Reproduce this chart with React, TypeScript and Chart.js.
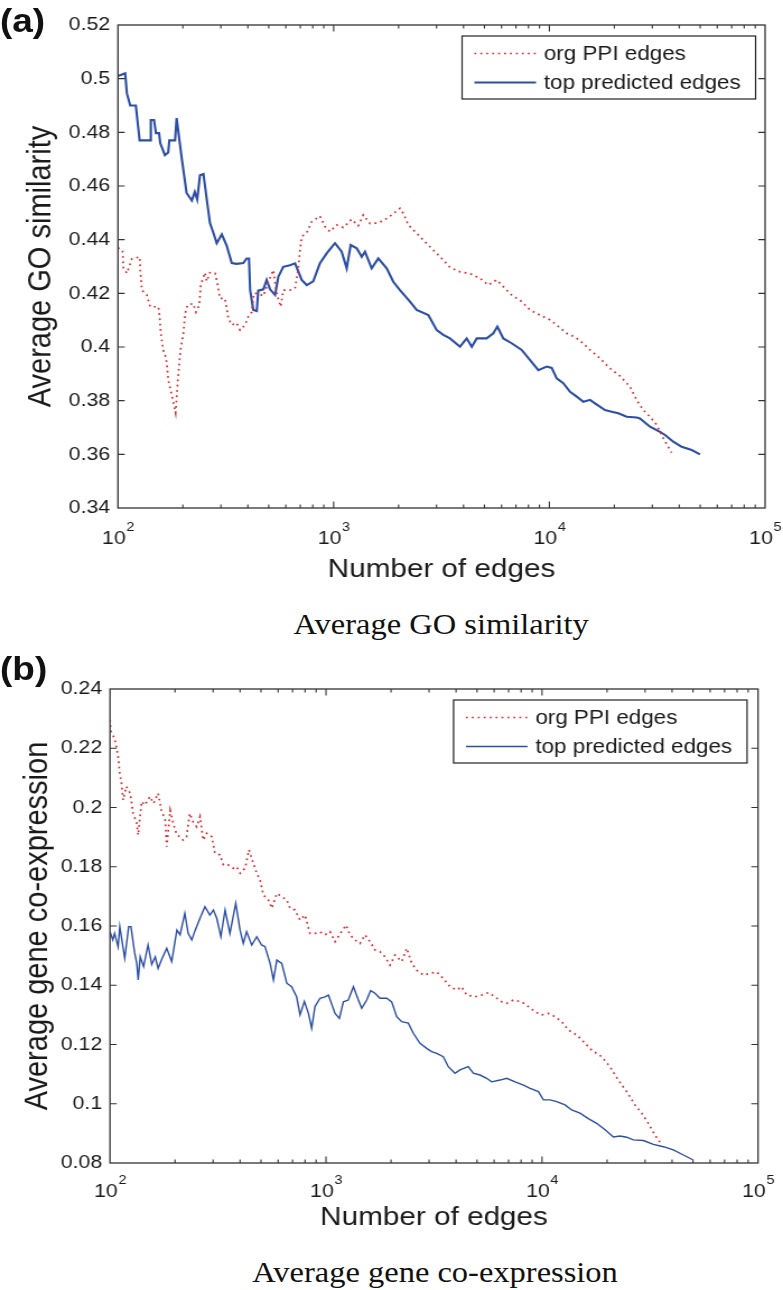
import React, { useEffect, useRef } from 'react';
import { Chart, registerables } from 'chart.js';

Chart.register(...registerables);

// The reference is horizontally stretched; we lay out in unstretched units and scale X.
const W0 = 699;
const S = 783 / W0;

const FONT = "'Liberation Sans', Arial, Helvetica, sans-serif";
const SERIF = "'Liberation Serif', 'Times New Roman', Times, serif";
const TEXT = '#1a1a1a';
const AXIS = '#333333';
const RED = '#e2262c';
const BLUE = '#2c4ea3';

// ---------- data ----------
const seriesLabels = ['org PPI edges', 'top predicted edges'];
const xTitle = 'Number of edges';
const xDecades = [100, 1000, 10000, 100000];
const xMinorMultipliers = [2, 3, 4, 5, 6, 7, 8, 9];

const goYTicks = [0.34, 0.36, 0.38, 0.4, 0.42, 0.44, 0.46, 0.48, 0.5, 0.52];
const coYTicks = [0.08, 0.1, 0.12, 0.14, 0.16, 0.18, 0.2, 0.22, 0.24];

// (a) Average GO similarity — original PPI edges (red dotted)
const goPpiEdges = [
  100, 105, 106, 110, 116, 126, 127, 129, 136, 141, 154, 156, 158, 162, 167, 169, 171, 180, 185,
  190, 195, 201, 205, 210, 223, 230, 238, 242, 253, 258, 267, 282, 289, 297, 313, 319, 325, 337,
  355, 368, 388, 402, 417, 427, 447, 472, 498, 525, 544, 568, 584, 627, 662, 686, 698, 711, 750,
  791, 864, 911, 961, 1033, 1109, 1211, 1300, 1372, 1473, 1581, 1698, 1857, 2029, 2103, 2218,
  2425, 2651, 2898, 3224, 3461, 3852, 4286, 4768, 5210, 5696, 6115, 6683, 7441, 8136, 9040,
  10070, 10810, 12020, 12910, 13870, 15430, 17170, 19100, 21250, 23640, 25390, 27250, 29270,
  31420, 33730, 35570, 36870,
];
const goPpiValues = [
  0.437, 0.436, 0.4294, 0.4275, 0.4328, 0.4336, 0.4286, 0.4212, 0.4194, 0.415, 0.415, 0.4113,
  0.4051, 0.3989, 0.396, 0.3927, 0.3877, 0.38, 0.3755, 0.389, 0.399, 0.405, 0.4126, 0.4156,
  0.4162, 0.413, 0.4155, 0.423, 0.4277, 0.4245, 0.4277, 0.4275, 0.4237, 0.4181, 0.4181, 0.4144,
  0.4107, 0.4082, 0.409, 0.4063, 0.4082, 0.4113, 0.413, 0.42, 0.42, 0.419, 0.4243, 0.4287, 0.42,
  0.415, 0.4212, 0.4212, 0.4218, 0.4293, 0.4361, 0.4411, 0.4426, 0.4467, 0.4488, 0.4449, 0.443,
  0.4455, 0.4445, 0.4476, 0.4452, 0.4492, 0.446, 0.4462, 0.447, 0.4492, 0.4517, 0.4498, 0.4455,
  0.4424, 0.4392, 0.4361, 0.4324, 0.4297, 0.428, 0.4274, 0.4256, 0.4231, 0.425, 0.4225, 0.4194,
  0.4169, 0.4138, 0.4119, 0.4101, 0.4082, 0.4051, 0.404, 0.4024, 0.3989, 0.3958, 0.392, 0.3892,
  0.3852, 0.3802, 0.3765, 0.374, 0.371, 0.366, 0.3628, 0.3606,
];

// (a) Average GO similarity — top predicted edges (blue solid)
const goTopEdges = [
  100, 108, 110, 114, 121, 126, 141, 142, 147, 150, 155, 157, 165, 171, 173, 184, 187, 197, 208,
  220, 227, 233, 240, 249, 258, 267, 277, 287, 303, 319, 337, 355, 381, 395, 405, 410, 424, 440,
  447, 472, 489, 507, 535, 554, 584, 627, 662, 711, 750, 804, 864, 928, 996, 1014, 1089, 1149,
  1199, 1279, 1349, 1397, 1500, 1610, 1761, 1890, 2029, 2258, 2425, 2747, 3004, 3224, 3461, 3852,
  4137, 4367, 4606, 5120, 5496, 5740, 6115, 6683, 7441, 8136, 8890, 9722, 10250, 10810, 11600,
  12470, 13390, 14370, 15430, 16270, 18100, 19440, 20860, 22810, 25390, 26300, 29270, 32570,
  34380, 37530, 41040, 45670, 49920,
];
const goTopValues = [
  0.501, 0.502, 0.4945, 0.49, 0.49, 0.477, 0.477, 0.4846, 0.4846, 0.4797, 0.4797, 0.476, 0.4715,
  0.4725, 0.477, 0.477, 0.4853, 0.471, 0.4574, 0.4546, 0.4578, 0.455, 0.464, 0.4645, 0.455,
  0.4462, 0.4425, 0.4387, 0.442, 0.4378, 0.4313, 0.431, 0.4313, 0.433, 0.433, 0.4212, 0.4138,
  0.4134, 0.421, 0.4215, 0.425, 0.4215, 0.4194, 0.4262, 0.4299, 0.4305, 0.4312, 0.425, 0.4231,
  0.4245, 0.4312, 0.4349, 0.438, 0.4387, 0.4355, 0.4293, 0.438, 0.4368, 0.4336, 0.4355, 0.4293,
  0.433, 0.4293, 0.4243, 0.4212, 0.4169, 0.4138, 0.4119, 0.4063, 0.4045, 0.4032, 0.4001, 0.4032,
  0.4001, 0.4032, 0.4032, 0.4051, 0.4076, 0.4032, 0.4014, 0.3989, 0.3951, 0.3914, 0.3927,
  0.3922, 0.3883, 0.3865, 0.3833, 0.3815, 0.3796, 0.3803, 0.379, 0.3765, 0.3759, 0.3753, 0.374,
  0.3737, 0.3734, 0.3703, 0.3684, 0.3672, 0.3647, 0.3628, 0.3616, 0.36,
];

// (b) Average gene co-expression — original PPI edges (red dotted)
const coPpiEdges = [
  100, 101, 105, 107, 109, 111, 113, 115, 119, 124, 128, 133, 135, 140, 145, 153, 159, 167, 173,
  180, 183, 190, 196, 204, 211, 218, 226, 234, 243, 252, 261, 270, 280, 296, 306, 323, 335, 353,
  372, 386, 400, 422, 440, 461, 478, 495, 513, 541, 561, 592, 624, 658, 681, 718, 758, 799, 843,
  889, 938, 989, 1043, 1101, 1153, 1238, 1291, 1362, 1436, 1516, 1599, 1686, 1778, 1876, 1978,
  2086, 2240, 2364, 2493, 2630, 2826, 3030, 3252, 3491, 3750, 4027, 4245, 4477, 4893, 5257, 5645,
  6058, 6507, 6861, 7363, 8050, 8646, 9290, 9977, 10700, 11480, 12330, 13240, 14480, 15540,
  16980, 18880, 20630, 22540, 24650, 26960, 28960, 31060, 33340, 35800,
];
const coPpiValues = [
  0.2295, 0.2256, 0.2233, 0.2205, 0.2172, 0.2115, 0.2082, 0.2025, 0.2071, 0.2048, 0.198, 0.1947,
  0.1907, 0.202, 0.2008, 0.2037, 0.2014, 0.2048, 0.199, 0.1958, 0.1868, 0.199, 0.1947, 0.1907,
  0.1901, 0.189, 0.1901, 0.198, 0.195, 0.1935, 0.1969, 0.189, 0.1913, 0.1901, 0.1845, 0.184,
  0.1806, 0.1806, 0.1795, 0.18, 0.1778, 0.1795, 0.1857, 0.1811, 0.1778, 0.1755, 0.1705, 0.1688,
  0.166, 0.171, 0.1699, 0.1688, 0.166, 0.1654, 0.162, 0.1637, 0.1575, 0.1575, 0.158, 0.157,
  0.1581, 0.1547, 0.157, 0.1603, 0.157, 0.1553, 0.1541, 0.157, 0.1547, 0.1519, 0.1513, 0.1496,
  0.1468, 0.1502, 0.148, 0.1525, 0.1474, 0.1451, 0.1434, 0.144, 0.1445, 0.1423, 0.1395, 0.1384,
  0.1395, 0.1367, 0.1361, 0.1367, 0.1375, 0.1361, 0.1344, 0.1339, 0.135, 0.1344, 0.1328, 0.131,
  0.13, 0.1305, 0.1294, 0.1277, 0.1249, 0.1232, 0.121, 0.1181, 0.1159, 0.1125, 0.108, 0.1041,
  0.0996, 0.0968, 0.0934, 0.0894, 0.0862,
];

// (b) Average gene co-expression — top predicted edges (blue solid)
const coTopEdges = [
  100, 103, 105, 109, 111, 115, 117, 122, 125, 130, 133, 135, 138, 143, 150, 156, 162, 167, 173,
  183, 193, 204, 211, 222, 230, 239, 248, 261, 275, 290, 301, 312, 326, 341, 359, 382, 400, 414,
  429, 453, 478, 503, 522, 551, 571, 592, 624, 658, 693, 731, 758, 794, 829, 858, 889, 938, 989,
  1026, 1101, 1153, 1203, 1268, 1339, 1412, 1463, 1543, 1609, 1685, 1778, 1909, 2014, 2124, 2240,
  2404, 2536, 2723, 2923, 3083, 3252, 3491, 3683, 3953, 4170, 4556, 4806, 5160, 5540, 5845, 6391,
  6861, 7503, 8204, 8806, 9620, 10150, 10890, 11690, 12780, 13710, 14990, 16380, 17900, 19580,
  21400, 22970, 24650, 26460, 29460, 32760, 36440, 40550, 45110, 49860,
];
const coTopValues = [
  0.1581, 0.1553, 0.1575, 0.153, 0.1598, 0.1525, 0.1491, 0.1598, 0.1598, 0.151, 0.1474, 0.1418,
  0.1496, 0.1463, 0.1536, 0.147, 0.1496, 0.1457, 0.1485, 0.1525, 0.148, 0.1586, 0.157, 0.1643,
  0.1575, 0.1553, 0.1586, 0.1626, 0.1665, 0.1637, 0.1654, 0.1626, 0.1564, 0.1654, 0.1575, 0.1677,
  0.1586, 0.1541, 0.1581, 0.1536, 0.1564, 0.1536, 0.153, 0.1474, 0.1418, 0.1485, 0.1474, 0.1407,
  0.1395, 0.1361, 0.13, 0.1345, 0.1305, 0.1255, 0.1328, 0.1356, 0.1361, 0.1367, 0.1305, 0.1288,
  0.1344, 0.135, 0.1395, 0.135, 0.1322, 0.135, 0.1382, 0.1373, 0.1356, 0.1356, 0.1344, 0.1294,
  0.1277, 0.1272, 0.1238, 0.1204, 0.1187, 0.1176, 0.117, 0.1159, 0.1125, 0.1103, 0.1114, 0.1125,
  0.1103, 0.1097, 0.1086, 0.1074, 0.108, 0.1086, 0.1074, 0.1063, 0.1052, 0.1041, 0.1013, 0.1013,
  0.1007, 0.0996, 0.0979, 0.0968, 0.095, 0.0934, 0.0912, 0.0888, 0.0891, 0.0887, 0.0878, 0.0876,
  0.0863, 0.0855, 0.0844, 0.0827, 0.0811,
];

// ---------- helpers ----------
const zip = (xs: number[], ys: number[]) => xs.map((x, i) => ({ x, y: ys[i] }));
const fmt = (v: number) => String(parseFloat(Number(v).toFixed(2)));

const matlabAxes = {
  id: 'matlabAxes',
  afterDatasetsDraw(chart: any, _args: any, opts: any) {
    const { ctx, chartArea: ca, scales } = chart;
    const xs = scales.x;
    const ys = scales.y;
    ctx.save();
    ctx.strokeStyle = AXIS;
    ctx.lineWidth = 1.3;
    ctx.strokeRect(ca.left, ca.top, ca.right - ca.left, ca.bottom - ca.top);
    ctx.beginPath();
    ctx.lineWidth = 1.1;
    for (let i = 0; i < xDecades.length - 1; i++) {
      for (const m of [1, ...xMinorMultipliers]) {
        const v = xDecades[i] * m;
        if (v <= xs.min || v >= xs.max) continue;
        const p = xs.getPixelForValue(v);
        const len = m === 1 ? 6.5 : 3.5;
        ctx.moveTo(p, ca.bottom);
        ctx.lineTo(p, ca.bottom - len);
        ctx.moveTo(p, ca.top);
        ctx.lineTo(p, ca.top + len);
      }
    }
    for (const t of ys.ticks) {
      if (t.value <= ys.min + 1e-9 || t.value >= ys.max - 1e-9) continue;
      const p = ys.getPixelForValue(t.value);
      ctx.moveTo(ca.left, p);
      ctx.lineTo(ca.left + 6, p);
      ctx.moveTo(ca.right, p);
      ctx.lineTo(ca.right - 6, p);
    }
    ctx.stroke();

    ctx.fillStyle = TEXT;
    ctx.textBaseline = 'alphabetic';
    ctx.textAlign = 'left';
    const base = ca.bottom + (opts.labelBaseline || 35);
    for (const d of xDecades) {
      const p = xs.getPixelForValue(d);
      const exp = String(Math.round(Math.log10(d)));
      ctx.font = `19px ${FONT}`;
      const w1 = ctx.measureText('10').width;
      ctx.font = `13px ${FONT}`;
      const w2 = ctx.measureText(exp).width;
      const x0 = p - (w1 + w2) / 2;
      ctx.font = `19px ${FONT}`;
      ctx.fillText('10', x0, base);
      ctx.font = `13px ${FONT}`;
      ctx.fillText(exp, x0 + w1 + 0.5, base - 13.5);
    }
    ctx.restore();
  },
};

const insetLegend = {
  id: 'insetLegend',
  afterDraw(chart: any, _args: any, opts: any) {
    const { ctx, chartArea: ca } = chart;
    const w = 262;
    const h = 63;
    const bx = ca.right - (opts.rightGap || 9) - w;
    const by = ca.top + 11;
    ctx.save();
    ctx.fillStyle = '#ffffff';
    ctx.fillRect(bx, by, w, h);
    ctx.strokeStyle = '#222222';
    ctx.lineWidth = 1.2;
    ctx.strokeRect(bx, by, w, h);
    chart.data.datasets.forEach((ds: any, i: number) => {
      const yy = by + 17.5 + i * 29;
      ctx.beginPath();
      ctx.strokeStyle = ds.borderColor;
      ctx.lineWidth = ds.borderWidth;
      ctx.setLineDash(ds.borderDash || []);
      ctx.moveTo(bx + 11, yy);
      ctx.lineTo(bx + 66, yy);
      ctx.stroke();
      ctx.setLineDash([]);
      ctx.fillStyle = TEXT;
      ctx.font = `20px ${FONT}`;
      ctx.textBaseline = 'middle';
      ctx.textAlign = 'left';
      ctx.fillText(ds.label, bx + 73, yy + 1);
    });
    ctx.restore();
  },
};

function buildConfig(p: any): any {
  return {
    type: 'line',
    data: {
      datasets: [
        {
          label: seriesLabels[0],
          data: zip(p.ppiN, p.ppiV),
          borderColor: RED,
          borderWidth: 1.7,
          borderDash: [1.7, 3.6],
          pointRadius: 0,
          fill: false,
          tension: 0,
        },
        {
          label: seriesLabels[1],
          data: zip(p.topN, p.topV),
          borderColor: BLUE,
          borderWidth: p.blueWidth,
          pointRadius: 0,
          fill: false,
          tension: 0,
        },
      ],
    },
    options: {
      responsive: true,
      maintainAspectRatio: false,
      animation: false,
      events: [],
      layout: { padding: { top: p.padTop, right: p.padRight, left: 0, bottom: 0 } },
      plugins: {
        legend: { display: false },
        tooltip: { enabled: false },
        matlabAxes: { labelBaseline: p.labelBaseline },
        insetLegend: { rightGap: p.legendGap },
      },
      scales: {
        x: {
          type: 'logarithmic',
          min: xDecades[0],
          max: xDecades[xDecades.length - 1],
          grid: { display: false, drawTicks: false },
          border: { display: false },
          ticks: { display: false },
          title: {
            display: true,
            text: xTitle,
            color: TEXT,
            font: { size: 26.5, family: FONT },
            padding: { top: 0, bottom: p.xTitlePad },
          },
          afterFit: (s: any) => {
            s.height = p.xHeight;
          },
        },
        y: {
          type: 'linear',
          min: p.yTicks[0],
          max: p.yTicks[p.yTicks.length - 1],
          afterBuildTicks: (s: any) => {
            s.ticks = p.yTicks.map((v: number) => ({ value: v }));
          },
          grid: { display: false, drawTicks: false },
          border: { display: false },
          ticks: {
            color: TEXT,
            font: { size: 19, family: FONT },
            padding: 7,
            callback: (v: any) => fmt(v),
          },
          title: {
            display: true,
            text: p.yTitle,
            color: TEXT,
            font: { size: 29, family: FONT },
            padding: { top: p.yTitlePad, bottom: 0 },
          },
          afterFit: (s: any) => {
            s.width = p.yWidth;
          },
        },
      },
    },
    plugins: [matlabAxes, insetLegend],
  };
}

export default function App() {
  const refA = useRef<HTMLCanvasElement>(null);
  const refB = useRef<HTMLCanvasElement>(null);

  useEffect(() => {
    const a = new Chart(
      refA.current as HTMLCanvasElement,
      buildConfig({
        ppiN: goPpiEdges,
        ppiV: goPpiValues,
        topN: goTopEdges,
        topV: goTopValues,
        yTicks: goYTicks,
        yTitle: 'Average GO similarity',
        blueWidth: 2.1,
        padTop: 25,
        padRight: 16,
        yWidth: 105.3,
        xHeight: 92,
        xTitlePad: 14.4,
        yTitlePad: 20,
        labelBaseline: 36,
        legendGap: 8.5,
      })
    );
    const b = new Chart(
      refB.current as HTMLCanvasElement,
      buildConfig({
        ppiN: coPpiEdges,
        ppiV: coPpiValues,
        topN: coTopEdges,
        topV: coTopValues,
        yTicks: coYTicks,
        yTitle: 'Average gene co-expression',
        blueWidth: 1.4,
        padTop: 49,
        padRight: 22.3,
        yWidth: 98.2,
        xHeight: 77,
        xTitlePad: 6.1,
        yTitlePad: 16.5,
        labelBaseline: 34,
        legendGap: 9.8,
      })
    );
    return () => {
      a.destroy();
      b.destroy();
    };
  }, []);

  const letter: React.CSSProperties = {
    position: 'absolute',
    left: 0,
    font: `bold 33px ${FONT}`,
    lineHeight: '33px',
    color: '#111',
    whiteSpace: 'nowrap',
  };
  const caption: React.CSSProperties = {
    position: 'absolute',
    width: 600,
    textAlign: 'center',
    font: `29px ${SERIF}`,
    lineHeight: '29px',
    color: '#111',
    whiteSpace: 'nowrap',
  };

  return (
    <div
      style={{
        position: 'absolute',
        left: 0,
        top: 0,
        width: W0,
        height: 1290,
        background: '#ffffff',
        transform: `scaleX(${S})`,
        transformOrigin: '0 0',
        overflow: 'hidden',
      }}
    >
      <div style={{ position: 'absolute', left: 0, top: 0, width: W0, height: 600 }}>
        <canvas ref={refA} />
      </div>
      <div style={{ ...letter, top: 4 }}>(a)</div>
      <div style={{ ...caption, left: 393.8 - 300, top: 609.7 }}>Average GO similarity</div>

      <div style={{ position: 'absolute', left: 0, top: 640, width: W0, height: 600 }}>
        <canvas ref={refB} />
      </div>
      <div style={{ ...letter, top: 652 }}>(b)</div>
      <div style={{ ...caption, left: 388.4 - 300, top: 1258.4 }}>Average gene co-expression</div>
    </div>
  );
}
